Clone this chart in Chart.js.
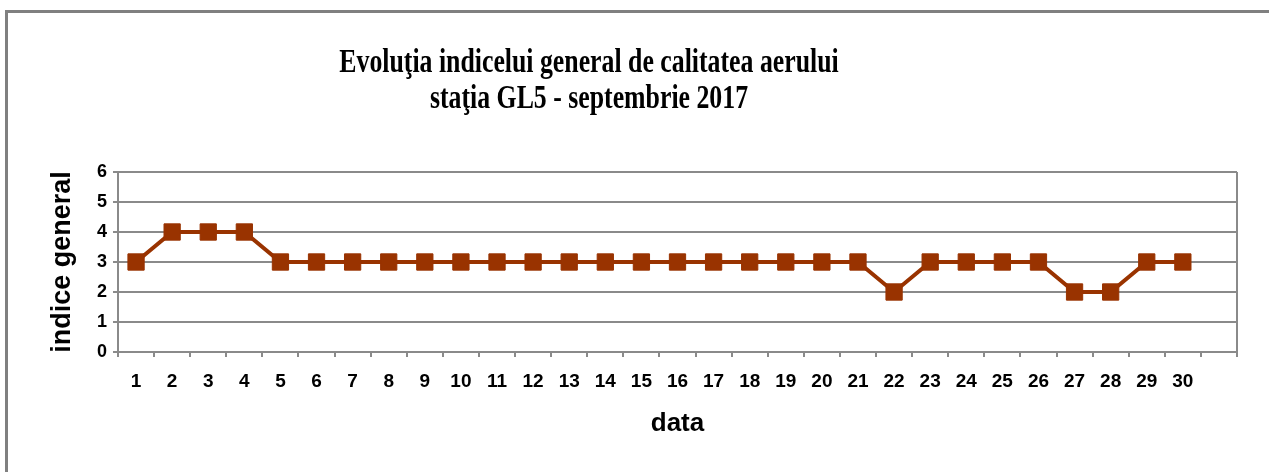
<!DOCTYPE html>
<html>
<head>
<meta charset="utf-8">
<script src="https://cdn.jsdelivr.net/npm/chart.js@4"></script>
<style>
    html, body { margin: 0; padding: 0; background: #fff; }
    #wrap { position: relative; width: 1269px; height: 472px; overflow: hidden; }
    #frame { position: absolute; left: 5px; top: 10px; width: 1400px; height: 600px;
             border-left: 3px solid #808080; border-top: 3px solid #808080; }
    canvas { position: absolute; left: 0; top: 0; }
</style>
</head>
<body>
<div id="wrap">
    <div id="frame"></div>
    <canvas id="chart" width="1269" height="472"></canvas>
</div>
<script>
// zile din luna (ultima categorie ramane goala)
const days = ['1','2','3','4','5','6','7','8','9','10','11','12','13','14','15','16','17','18','19','20','21','22','23','24','25','26','27','28','29','30',''];
const indiceGeneral = [3,4,4,4,3,3,3,3,3,3,3,3,3,3,3,3,3,3,3,3,3,2,3,3,3,3,2,2,3,3,null];
const yTicks = [0,1,2,3,4,5,6];
const titleLines = ['Evoluţia indicelui general de calitatea aerului', 'staţia GL5 - septembrie 2017'];

const gridGray = '#8a8a8a';
const sans = 'Liberation Sans, Arial, sans-serif';

// titlul e desenat separat (centrat putin spre stanga, font mai inalt)
const titlePlugin = {
    id: 'titluGrafic',
    afterDraw: function(chart) {
        const c = chart.ctx;
        c.save();
        c.fillStyle = '#000';
        c.textAlign = 'center';
        c.textBaseline = 'alphabetic';
        c.font = 'bold 25.8px "Liberation Serif", "Times New Roman", serif';
        [72, 108].forEach(function(y, i) {
            c.save();
            c.translate(589, y);
            c.scale(1, 1.3);
            c.fillText(titleLines[i], 0, 0);
            c.restore();
        });
        c.restore();
    }
};

document.addEventListener('DOMContentLoaded', function() {
    const ctx = document.getElementById('chart');
    new Chart(ctx, {
        type: 'line',
        data: {
            labels: days,
            datasets: [{
                label: 'indice general',
                data: indiceGeneral,
                borderColor: '#993300',
                backgroundColor: '#993300',
                borderWidth: 4,
                pointStyle: 'rect',
                pointRadius: 11.5,
                pointBorderWidth: 1,
                pointBorderColor: '#993300',
                pointBackgroundColor: '#993300',
                tension: 0,
                fill: false
            }]
        },
        options: {
            responsive: false,
            animation: false,
            layout: { padding: { left: 46, right: 32, top: 172, bottom: 20 } },
            scales: {
                x: {
                    offset: true,
                    afterFit: function(s) { s.height = 100; },
                    grid: {
                        offset: true,
                        drawOnChartArea: true,
                        color: c => c.type === 'scale' ? gridGray : 'rgba(0,0,0,0)',
                        tickColor: gridGray,
                        tickLength: 5,
                        lineWidth: 2
                    },
                    border: { color: gridGray, width: 2 },
                    ticks: {
                        color: '#000',
                        padding: 13,
                        maxRotation: 0,
                        autoSkip: false,
                        font: { family: sans, size: 19, weight: 'bold' }
                    },
                    title: {
                        display: true,
                        text: 'data',
                        color: '#000',
                        padding: { top: 0, bottom: 13 },
                        font: { family: sans, size: 26, weight: 'bold' }
                    }
                },
                y: {
                    min: 0,
                    max: 6,
                    afterFit: function(s) { s.width = 72; },
                    afterBuildTicks: function(s) { s.ticks = yTicks.map(v => ({ value: v })); },
                    grid: { color: gridGray, lineWidth: 2, tickLength: 5 },
                    border: { color: gridGray, width: 2 },
                    ticks: {
                        color: '#000',
                        padding: 6,
                        font: { family: sans, size: 18, weight: 'bold' }
                    },
                    title: {
                        display: true,
                        text: 'indice general',
                        color: '#000',
                        padding: 0,
                        font: { family: sans, size: 27, weight: 'bold' }
                    }
                }
            },
            plugins: {
                legend: { display: false },
                tooltip: { enabled: false },
                title: { display: false }
            }
        },
        plugins: [titlePlugin]
    });
});
</script>
</body>
</html>
